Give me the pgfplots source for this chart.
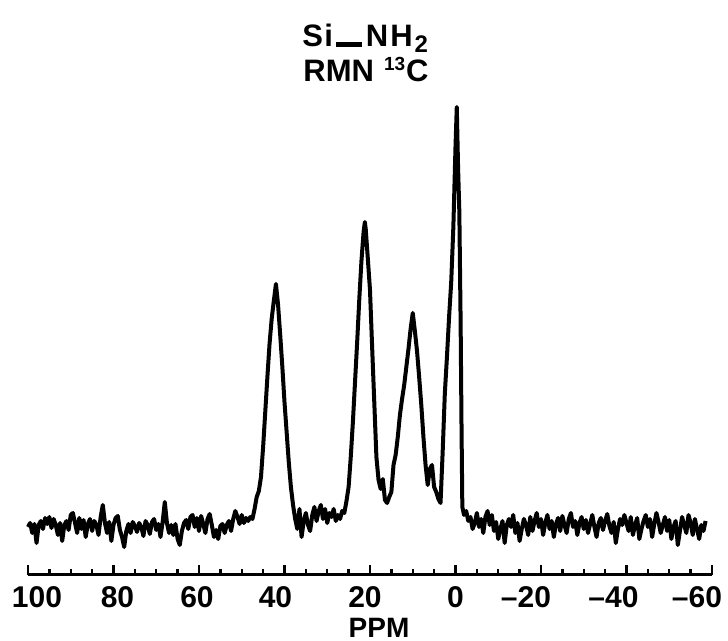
\documentclass[border=0pt]{standalone}
\usepackage{fontspec}
\setmainfont{Liberation Sans}
\usepackage{pgfplots}
\pgfplotsset{compat=1.18}

\begin{document}
\begin{tikzpicture}
\useasboundingbox (0,0) rectangle (364pt,320.5pt);
% spectrum: x in ppm, y in arbitrary intensity above baseline
\begin{axis}[
    at={(14pt,33pt)}, anchor=south west,
    scale only axis,
    width=342pt, height=237.5pt,
    xmin=-60, xmax=100, x dir=reverse,
    ymin=-48, ymax=427,
    clip=false,
    axis x line=bottom, axis y line=none,
    x axis line style={-, line width=1.5pt},
    xtick={-60,-40,...,100},
    xticklabels={{–60\hspace*{15pt}},{–40\hspace*{13pt}},{–20\hspace*{15pt}},0,{20\hspace*{5pt}},{40\hspace*{9pt}},{60\hspace*{2pt}},{\hspace*{4pt}80},{\hspace*{9pt}100}},
    minor x tick num=3,
    tick align=inside,
    major tick length=5pt, minor tick length=3pt,
    every tick/.style={line width=1.2pt, black},
    xticklabel style={font=\fontsize{15}{17}\selectfont\bfseries, yshift=-2pt},
    xlabel={PPM},
    xlabel style={font=\fontsize{14}{16}\selectfont\bfseries, at={(axis description cs:0.5,0)}, anchor=center, yshift=-26.5pt, xshift=4.5pt},
]
\addplot[black, line width=2pt, line join=round] coordinates {
(100,0) (99.5,4) (99,-6) (98.5,3) (98,-16) (97.5,2) (97,6) (96.5,-2) (96,9) (95.5,3)
(95,10) (94.5,-1) (94,8) (93.5,2) (93,-8) (92.5,4) (92,-14) (91.5,2) (91,6) (90.5,-3)
(90,12) (89.5,14) (89,4) (88.5,-6) (88,9) (87.5,-2) (87,7) (86.5,-10) (86,3) (85.5,8)
(85,-4) (84.5,6) (84,2) (83.5,-8) (83,10) (82.5,22) (82,4) (81.5,-6) (81,5) (80.5,-14)
(80,2) (79.5,9) (79,11) (78.5,-3) (78,-10) (77.5,-20) (77,-4) (76.5,3) (76,-6) (75.5,5)
(75,1) (74.5,-5) (74,4) (73.5,0) (73,-9) (72.5,6) (72,2) (71.5,-7) (71,5) (70.5,8)
(70,-3) (69.5,3) (69,-10) (68.5,5) (68,25) (67.5,4) (67,-6) (66.5,2) (66,-8) (65.5,3)
(65,-12) (64.5,-18) (64,-4) (63.5,4) (63,7) (62.5,-2) (62,10) (61.5,12) (61,0) (60.5,9)
(60,-4) (59.5,11) (59,3) (58.5,-6) (58,8) (57.5,13) (57,2) (56.5,-10) (56,-3) (55.5,-12)
(55,1) (54.5,3) (54,-6) (53.5,2) (53,6) (52.5,-4) (52,8) (51.5,16) (51,10) (50.5,3)
(50,12) (49.5,4) (49,9)
(48.5,6) (48,10) (47.5,8) (47,18) (46.5,30) (46,36) (45.5,50) (45,80) (44.5,115) (44,150)
(43.5,183) (43,208) (42.5,226) (42,243) (41.5,222) (41,192) (40.5,160) (40,125) (39.5,95) (39,65)
(38.5,40) (38,22) (37.5,8) (37,-2)
(36.5,18) (36,-10) (35.5,6) (35,14) (34.5,2) (34,-4) (33.5,12) (33,20) (32.5,6) (32,16)
(31.5,22) (31,8) (30.5,18) (30,4) (29.5,14) (29,10) (28.5,18) (28,6) (27.5,12) (27,8)
(26.5,16) (26,14) (25.5,26) (25,40)
(24.5,70) (24,105) (23.5,145) (23,185) (22.5,228) (22,266) (21.5,295) (21.2,305) (21,298) (20.5,268)
(20,237) (19.5,180) (19,125) (18.5,70) (18,47) (17.5,38) (17,48) (16.5,27) (16,24) (15.5,30)
(15,35) (14.5,62) (14,72) (13.5,90) (13,112) (12.5,128) (12,142) (11.5,160) (11,178) (10.5,198)
(10,214) (9.5,196) (9,176) (8.5,150) (8,122) (7.5,90) (7,62) (6.5,42) (6,58) (5.5,62)
(5,40) (4.5,35) (4,28) (3.5,24) (3,75) (2.5,133) (2,170) (1.5,210) (1,245) (0.5,300)
(0,380) (-0.3,420) (-0.6,360) (-0.9,315) (-1.2,205) (-1.4,105) (-1.6,20)
(-2,12) (-2.5,16) (-3,6) (-3.5,10) (-4,-2) (-4.5,4) (-5,14) (-5.5,0) (-6,8) (-6.5,-6)
(-7,10) (-7.5,16) (-8,2) (-8.5,12) (-9,-4) (-9.5,5) (-10,-12) (-10.5,-2) (-11,6) (-11.5,-16)
(-12,2) (-12.5,8) (-13,0) (-13.5,12) (-14,-6) (-14.5,4) (-15,-14) (-15.5,-2) (-16,8) (-16.5,2)
(-17,-8) (-17.5,10) (-18,-4) (-18.5,6) (-19,14) (-19.5,0) (-20,8) (-20.5,-8) (-21,4) (-21.5,12)
(-22,-2) (-22.5,6) (-23,-10) (-23.5,3) (-24,9) (-24.5,-4) (-25,11) (-25.5,2) (-26,-6) (-26.5,8)
(-27,14) (-27.5,0) (-28,6) (-28.5,-8) (-29,4) (-29.5,10) (-30,-2) (-30.5,7) (-31,-6) (-31.5,3)
(-32,12) (-32.5,0) (-33,-10) (-33.5,4) (-34,9) (-34.5,-3) (-35,6) (-35.5,13) (-36,1) (-36.5,-6)
(-37,5) (-37.5,-16) (-38,-2) (-38.5,8) (-39,2) (-39.5,12) (-40,4) (-40.5,-4) (-41,10) (-41.5,-8)
(-42,2) (-42.5,9) (-43,-12) (-43.5,-2) (-44,6) (-44.5,12) (-45,0) (-45.5,8) (-46,-10) (-46.5,3)
(-47,14) (-47.5,5) (-48,-6) (-48.5,2) (-49,10) (-49.5,-4) (-50,7) (-50.5,-12) (-51,0) (-51.5,6)
(-52,-18) (-52.5,-4) (-53,10) (-53.5,2) (-54,-6) (-54.5,12) (-55,4) (-55.5,-8) (-56,8) (-56.5,-2)
(-57,-12) (-57.5,2) (-58,-4) (-58.5,6)
};
\end{axis}
\node[font=\fontsize{15.5}{18}\selectfont\bfseries, anchor=base west, inner sep=0pt] at (151pt,297pt)
  {S\kern0.6pt i\kern1.5pt\rule[0pt]{13pt}{2.3pt}\kern2pt N\kern1pt H\kern1pt\raisebox{-3pt}{\fontsize{12}{14}\selectfont 2}};
\node[font=\fontsize{15.5}{18}\selectfont\bfseries, anchor=base west, inner sep=0pt] at (151.5pt,279.5pt)
  {RMN\kern5pt\raisebox{5.5pt}{\fontsize{9.5}{11}\selectfont 13}\kern0.5pt C};
\end{tikzpicture}
\end{document}
